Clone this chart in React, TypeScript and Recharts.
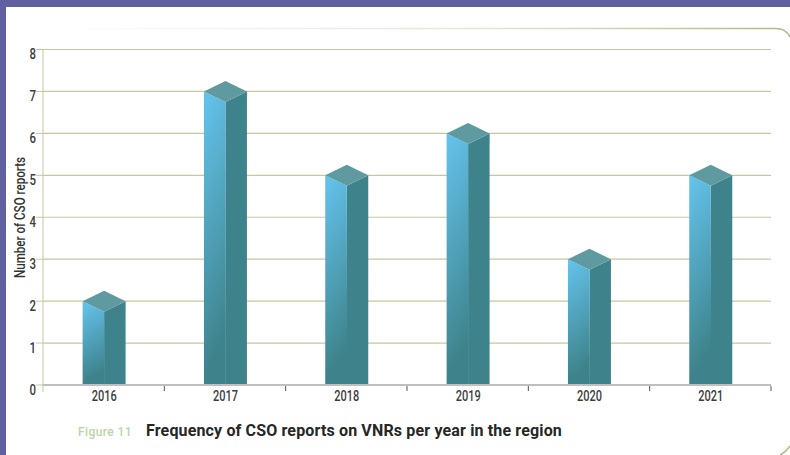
import { Bar, BarChart, CartesianGrid, XAxis, YAxis } from 'recharts'

const years = ['2016', '2017', '2018', '2019', '2020', '2021']
const reports = [2, 7, 5, 6, 3, 5]
const yTicks = [0, 1, 2, 3, 4, 5, 6, 7, 8]

const data = years.map((year, i) => ({ year, reports: reports[i] }))

const BAND = 121.33
const LIFT = 10.5

// Prism-looking column: front-left face, right face and a diamond cap.
function PrismBar(props: any) {
  const { y, width, height } = props
  const x = props.x + 0.6
  const cx = x + width / 2
  const bottom = y + height
  return (
    <g>
      <polygon
        points={`${cx},${y + LIFT} ${x + width},${y} ${x + width},${bottom} ${cx},${bottom}`}
        fill="#3e838b"
      />
      {/* drawn over the right face so no seam shows at the foot of the column */}
      <polygon
        points={`${x},${y} ${cx},${y + LIFT} ${cx + 0.4},${bottom} ${x},${bottom}`}
        fill="url(#frontFace)"
      />
      <polygon
        points={`${x},${y} ${cx},${y - LIFT} ${x + width},${y} ${cx},${y + LIFT}`}
        fill="#5f9aa1"
      />
    </g>
  )
}

function YearTick({ x, y, payload, index }: any) {
  return (
    <g>
      {index === 0 && <line x1={x - BAND / 2} x2={x - BAND / 2} y1={y - 8} y2={y - 1} stroke="#c3c6a2" />}
      <line x1={x + BAND / 2} x2={x + BAND / 2} y1={y - 7} y2={y - 2} stroke="#555" />
      <text
        x={x + 0.5}
        y={y + 7.5}
        textAnchor="middle"
        fontFamily="Roboto"
        fontSize={15}
        fontWeight={500}
        fill="#3c3c3c"
        textLength={25}
        lengthAdjust="spacingAndGlyphs"
      >
        {payload.value}
      </text>
    </g>
  )
}

function CountTick({ x, y, payload }: any) {
  return (
    <g>
      <line x1={x + 1} x2={x + 8} y1={y} y2={y} stroke="#c5c89f" />
      <text
        x={x + 1}
        y={y + 9.8}
        textAnchor="end"
        fontFamily="Roboto"
        fontSize={15}
        fontWeight={500}
        fill="#3c3c3c"
        textLength={6.5}
        lengthAdjust="spacingAndGlyphs"
      >
        {payload.value}
      </text>
    </g>
  )
}

function AxisTitle() {
  return (
    <text
      transform="translate(25 217.5) rotate(-90)"
      textAnchor="middle"
      fontFamily="Roboto"
      fontSize={14}
      fontWeight={500}
      fill="#333"
      textLength={121}
      lengthAdjust="spacingAndGlyphs"
    >
      Number of CSO reports
    </text>
  )
}

export default function App() {
  return (
    <div
      style={{
        position: 'absolute',
        left: 0,
        top: 0,
        width: 790,
        height: 455,
        overflow: 'hidden',
        background: '#fff',
      }}
    >
      {/* page frame behind the chart */}
      <svg width={790} height={455} style={{ position: 'absolute', left: 0, top: 0 }}>
        <defs>
          <linearGradient id="panelEdge" x1="0" y1="0" x2="1" y2="0">
            <stop offset="0" stopColor="#b7bf8c" stopOpacity={0} />
            <stop offset="0.6" stopColor="#b7bf8c" stopOpacity={0.4} />
            <stop offset="1" stopColor="#aeb880" />
          </linearGradient>
        </defs>
        <rect x={0} y={0} width={790} height={7} fill="#6060a1" />
        <rect x={0} y={0} width={6} height={455} fill="#6060a1" />
        <path d="M40 28.5 H776 Q786 28.5 790 37" fill="none" stroke="url(#panelEdge)" strokeWidth={1.5} />
        <path d="M780 455 Q786 452 790 446" fill="none" stroke="#aeb880" strokeWidth={1.5} />
      </svg>

      <div style={{ position: 'absolute', left: 0, top: 0 }}>
        <BarChart
          width={790}
          height={455}
          data={data}
          margin={{ top: 49.5, right: 19, bottom: 40, left: 13 }}
        >
          <defs>
            <linearGradient id="frontFace" x1="0" y1="0" x2="0.15" y2="1">
              <stop offset="0.04" stopColor="#63c1ea" />
              <stop offset="0.95" stopColor="#3e838b" />
            </linearGradient>
          </defs>
          <CartesianGrid vertical={false} stroke="#c5c89f" strokeWidth={1.2} />
          <XAxis
            dataKey="year"
            height={30}
            axisLine={{ stroke: '#bfbfbf', strokeWidth: 2 }}
            tickLine={false}
            tick={<YearTick />}
            interval={0}
          />
          <YAxis
            width={30}
            domain={[0, 8]}
            ticks={yTicks}
            interval={0}
            axisLine={{ stroke: '#c3c6a2' }}
            tickLine={false}
            tick={<CountTick />}
            label={() => <AxisTitle />}
          />
          <Bar dataKey="reports" barSize={43} shape={<PrismBar />} isAnimationActive={false} />
        </BarChart>
      </div>

      <div
        style={{
          position: 'absolute',
          left: 78,
          top: 425,
          fontFamily: 'Roboto',
          fontSize: 12,
          fontWeight: 500,
          lineHeight: '14px',
          color: '#b9d6a2',
          letterSpacing: 0.4,
          whiteSpace: 'nowrap',
        }}
      >
        Figure 11
      </div>
      <div
        style={{
          position: 'absolute',
          left: 146,
          top: 422,
          fontFamily: 'Roboto',
          fontSize: 16,
          fontWeight: 700,
          lineHeight: '18px',
          color: '#262626',
          letterSpacing: 0.15,
          whiteSpace: 'nowrap',
        }}
      >
        Frequency of CSO reports on VNRs per year in the region
      </div>
    </div>
  )
}
